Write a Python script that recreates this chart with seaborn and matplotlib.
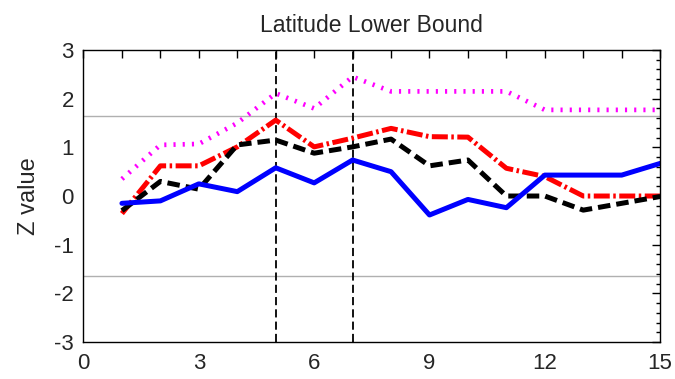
import numpy as np
import pandas as pd
import matplotlib
matplotlib.use('Agg')
import matplotlib.pyplot as plt
import matplotlib.ticker as ticker
import seaborn as sns

x = list(range(1, 16))
blue = [-0.15, -0.1, 0.25, 0.09, 0.58, 0.27, 0.74, 0.5, -0.39, -0.07, -0.24, 0.43, 0.43, 0.43, 0.67]
black = [-0.3, 0.3, 0.14, 1.05, 1.15, 0.88, 1.01, 1.17, 0.62, 0.74, 0.0, 0.0, -0.29, -0.15, -0.01]
red = [-0.36, 0.62, 0.62, 1.01, 1.56, 1.01, 1.19, 1.39, 1.22, 1.21, 0.57, 0.4, 0.0, 0.0, 0.0]
magenta = [0.35, 1.05, 1.07, 1.5, 2.11, 1.8, 2.45, 2.15, 2.15, 2.15, 2.15, 1.77, 1.77, 1.77, 1.77]
crit = 1.645
vlines = [5, 7]

sns.set_style('white')
plt.rcParams['font.family'] = ['Liberation Sans', 'DejaVu Sans']
plt.rcParams['axes.unicode_minus'] = False

fig = plt.figure(figsize=(6.75, 3.79), dpi=100)
ax = fig.add_axes([0.1237, 0.0976, 0.978 - 0.1237, 0.868 - 0.0976])

# critical values and the two marked columns
ax.axhline(crit, color='#b0b0b0', lw=1, zorder=1)
ax.axhline(-crit, color='#b0b0b0', lw=1, zorder=1)
for v in vlines:
    ax.axvline(v, color='black', lw=1.3, ls=(0, (4.5, 2.3)), zorder=2)

sns.lineplot(x=x, y=magenta, color='#ff00ff', lw=3.4, ls=(0, (0.45, 1.5)), ax=ax)
sns.lineplot(x=x, y=red, color='#ff0000', lw=3.6, ls=(0, (3.2, 0.7, 0.5, 0.7)), ax=ax)
sns.lineplot(x=x, y=black, color='black', lw=3.6, ls=(0, (2.5, 1.2)), ax=ax)
sns.lineplot(x=x, y=blue, color='#0000ff', lw=3.6, ls='-', ax=ax)

ax.set_xlim(0, 15)
ax.set_ylim(-3, 3)
ax.xaxis.set_major_locator(ticker.MultipleLocator(3))
ax.xaxis.set_minor_locator(ticker.MultipleLocator(1))
ax.yaxis.set_major_locator(ticker.MultipleLocator(1))
ax.yaxis.set_minor_locator(ticker.MultipleLocator(0.2))
ax.tick_params(which='both', direction='in', top=True, right=True, color='black', width=1)
ax.tick_params(which='major', length=6, labelsize=16)
ax.tick_params(axis='y', which='major', pad=7)
ax.tick_params(axis='x', which='major', pad=8)
ax.tick_params(which='minor', length=3)
ax.tick_params(axis='x', which='minor', length=6)
for s in ax.spines.values():
    s.set_color('black')
    s.set_linewidth(1)

ax.set_ylabel('Z value', fontsize=17, labelpad=10)
ax.set_title('Latitude Lower Bound', fontsize=16.5, pad=13)

fig.savefig('out.png', dpi=100)
